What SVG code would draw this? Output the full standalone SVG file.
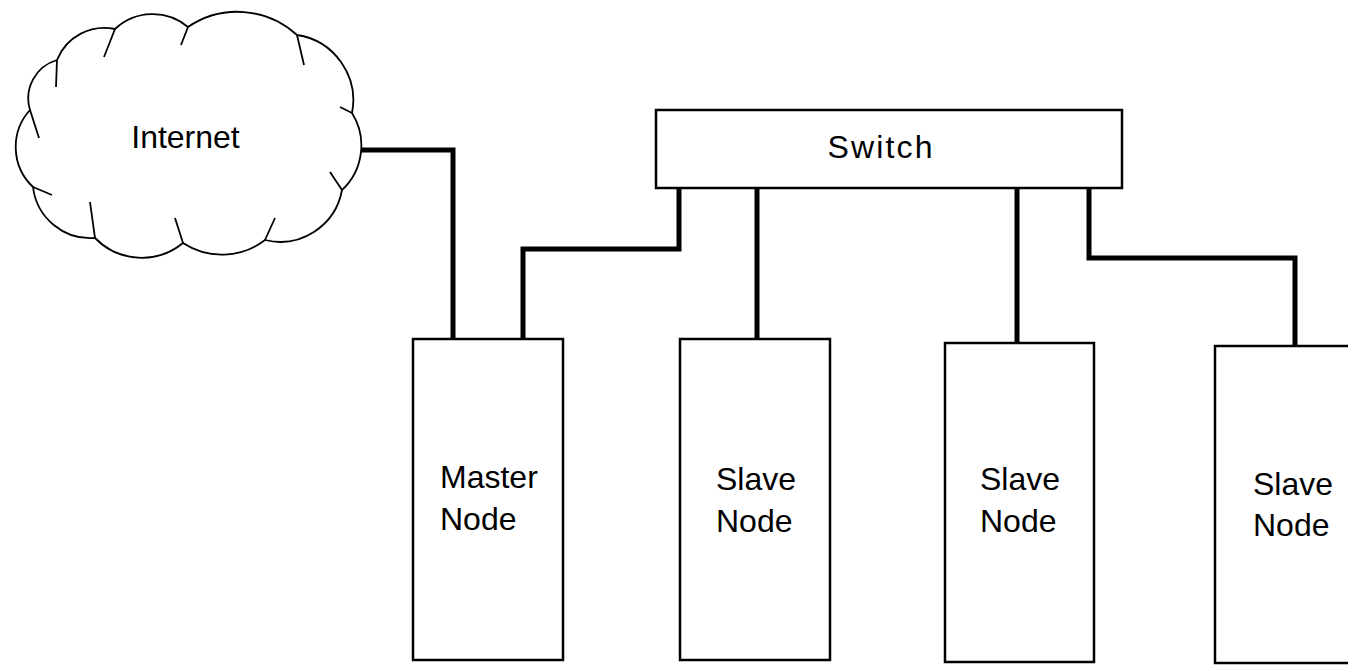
<svg xmlns="http://www.w3.org/2000/svg" width="1348" height="665" viewBox="0 0 1348 665">
<style>
.box{fill:#fff;stroke:#000;stroke-width:2.5}
.cloud{fill:#fff;stroke:#000;stroke-width:1.8;stroke-linejoin:miter}
.tick{fill:none;stroke:#000;stroke-width:1.8}
.lbl{font-family:"Liberation Sans",Arial,sans-serif;font-size:32px;fill:#000}
.wire{fill:none;stroke:#000;stroke-width:5;stroke-linejoin:miter}
</style>
<rect width="1348" height="665" fill="#fff"/>
<g id="connectors">
<polyline class="wire" points="360,150 453,150 453,340"/>
<polyline class="wire" points="523,340 523,249 679,249 679,188"/>
<polyline class="wire" points="757,188 757,340"/>
<polyline class="wire" points="1017,188 1017,344"/>
<polyline class="wire" points="1089,188 1089,258 1295,258 1295,347"/>
</g>
<g id="internet">
<path class="cloud" d="M188,27 A55,55 0 0 0 115,29 A51,51 0 0 0 57,60 A40,40 0 0 0 30,110 A55,55 0 0 0 33,187 A58,58 0 0 0 95,238 A65,65 0 0 0 183,243 A71,71 0 0 0 265,240 A63,63 0 0 0 342,190 A61,61 0 0 0 352,113 A66,66 0 0 0 297,35 A88,88 0 0 0 188,27 Z"/>
<path class="tick" d="M115,29 L104,57 M188,27 L181,45 M297,35 L304,65 M57,60 L56,87 M30,110 L39,138 M352,113 L340,107 M342,190 L330,172 M33,187 L52,195 M95,238 L90,202 M183,243 L175,218 M265,240 L275,218"/>
<text class="lbl" x="185.5" y="148" text-anchor="middle">Internet</text>
</g>
<g id="switch">
<rect class="box" x="656" y="110" width="466" height="78"/>
<text class="lbl" x="880" y="158" text-anchor="middle" textLength="105">Switch</text>
</g>
<g id="master">
<rect class="box" x="413" y="339" width="150" height="321"/>
<text class="lbl" x="440" y="488">Master</text>
<text class="lbl" x="440" y="530">Node</text>
</g>
<g id="slave1">
<rect class="box" x="680" y="339" width="150" height="321"/>
<text class="lbl" x="716" y="490">Slave</text>
<text class="lbl" x="716" y="532">Node</text>
</g>
<g id="slave2">
<rect class="box" x="945" y="343" width="149" height="319"/>
<text class="lbl" x="980" y="490">Slave</text>
<text class="lbl" x="980" y="532">Node</text>
</g>
<g id="slave3">
<rect class="box" x="1215" y="346" width="160" height="317"/>
<text class="lbl" x="1253" y="495">Slave</text>
<text class="lbl" x="1253" y="536">Node</text>
</g>
</svg>
